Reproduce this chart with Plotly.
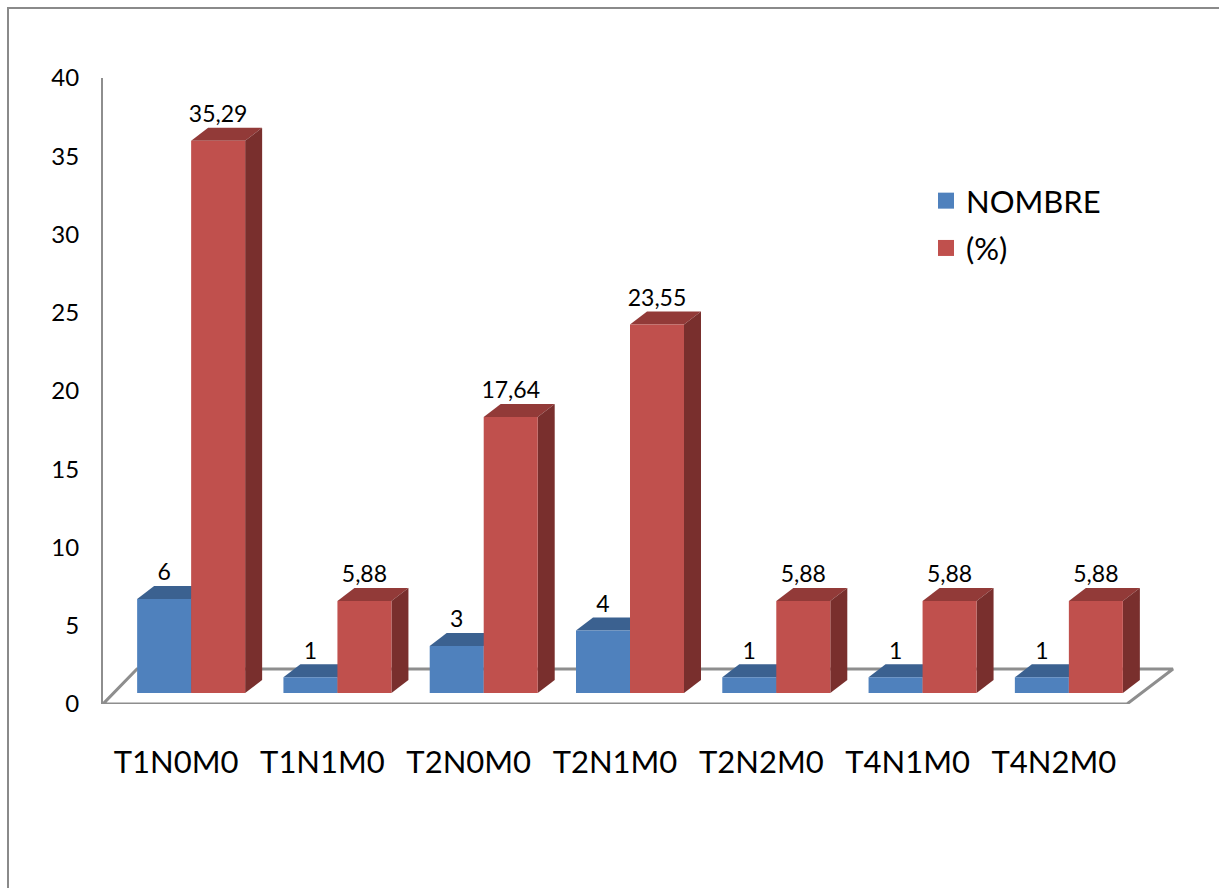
import plotly.graph_objects as go

# ---- data ----
categories = ["T1N0M0", "T1N1M0", "T2N0M0", "T2N1M0", "T2N2M0", "T4N1M0", "T4N2M0"]
nombre = [6, 1, 3, 4, 1, 1, 1]
pourcent = [35.29, 5.88, 17.64, 23.55, 5.88, 5.88, 5.88]
nombre_labels = ["6", "1", "3", "4", "1", "1", "1"]
pourcent_labels = ["35,29", "5,88", "17,64", "23,55", "5,88", "5,88", "5,88"]
y_ticks = [0, 5, 10, 15, 20, 25, 30, 35, 40]

# ---- geometry (pixel scale helpers for the pseudo-3D look) ----
W, H = 1219, 888
X0_PX, Y0_PX, Y40_PX = 103, 704, 78
CAT_PX = 1024 / 7.0            # pixels per category
VAL_PX = (Y0_PX - Y40_PX) / 40  # pixels per unit
ux = lambda px: px / CAT_PX
uy = lambda px: px / VAL_PX

FRONT_DX, FRONT_DY = ux(15), uy(11)   # bar front face position inside the floor
DEPTH_DX, DEPTH_DY = ux(17), uy(13)   # bar depth
BAR_W = ux(54)
FLOOR_DY = uy(35)

BLUE = dict(front="#4F81BD", top="#3B6190", side="#2F4F78")
RED = dict(front="#C0504D", top="#923A38", side="#792F2D")
FONT = "Lato, Carlito, Calibri, sans-serif"

fig = go.Figure()

# floor
n = len(categories)
fl_left, fl_right = -0.5, n - 0.5
floor_x = [fl_left, fl_right, fl_right + ux(46), fl_left + ux(34), fl_left]
floor_y = [0, 0, FLOOR_DY, FLOOR_DY, 0]
fig.add_trace(go.Scatter(x=floor_x, y=floor_y, mode="lines", fill="toself",
                         fillcolor="white", line=dict(color="#8E8E8E", width=3),
                         hoverinfo="skip", showlegend=False))


def add_bar(xl, val, col, label):
    xr = xl + BAR_W
    b = FRONT_DY
    t = val + FRONT_DY
    # top face
    fig.add_trace(go.Scatter(
        x=[xl, xr, xr + DEPTH_DX, xl + DEPTH_DX, xl],
        y=[t, t, t + DEPTH_DY, t + DEPTH_DY, t],
        mode="lines", fill="toself", fillcolor=col["top"], line=dict(width=0),
        hoverinfo="skip", showlegend=False))
    # side face
    fig.add_trace(go.Scatter(
        x=[xr, xr + DEPTH_DX, xr + DEPTH_DX, xr, xr],
        y=[b, b + DEPTH_DY, t + DEPTH_DY, t, b],
        mode="lines", fill="toself", fillcolor=col["side"], line=dict(width=0),
        hoverinfo="skip", showlegend=False))
    # front face
    fig.add_trace(go.Scatter(
        x=[xl, xr, xr, xl, xl], y=[b, b, t, t, b],
        mode="lines", fill="toself", fillcolor=col["front"], line=dict(width=0),
        hoverinfo="skip", showlegend=False))
    # value label
    fig.add_trace(go.Scatter(
        x=[(xl + xr) / 2], y=[t + DEPTH_DY], mode="text", text=[label],
        textposition="top center", textfont=dict(family=FONT, size=23, color="black"),
        hoverinfo="skip", showlegend=False, cliponaxis=False))


for i in range(n):
    c = i + FRONT_DX
    add_bar(c - BAR_W, nombre[i], BLUE, nombre_labels[i])
    add_bar(c, pourcent[i], RED, pourcent_labels[i])

# legend entries
fig.add_trace(go.Scatter(x=[None], y=[None], mode="markers", name="NOMBRE",
                         marker=dict(symbol="square", size=20, color=BLUE["front"]),
                         legendgroup="a"))
fig.add_trace(go.Scatter(x=[None], y=[None], mode="markers", name="(%)",
                         marker=dict(symbol="square", size=20, color=RED["front"]),
                         legendgroup="b"))

fig.update_layout(
    width=W, height=H, margin=dict(l=0, r=0, t=0, b=0, autoexpand=False),
    paper_bgcolor="white", plot_bgcolor="white",
    font=dict(family=FONT, color="black"),
    legend=dict(x=926 / W, y=1 - 174 / H, xanchor="left", yanchor="top",
                font=dict(size=31, family=FONT), bgcolor="rgba(0,0,0,0)",
                tracegroupgap=4, itemsizing="trace"),
    xaxis=dict(domain=[X0_PX / W, 1], range=[-0.5, -0.5 + (W - X0_PX) / CAT_PX],
               showgrid=False, zeroline=False, showline=False, automargin=False,
               tickvals=list(range(n)), ticktext=categories,
               tickfont=dict(size=31, family=FONT), ticks="", ticklabelstandoff=37),
    yaxis=dict(domain=[(H - Y0_PX) / H, (H - Y40_PX) / H], range=[0, 40],
               tickvals=y_ticks, showgrid=False, zeroline=False, automargin=False,
               showline=True, linecolor="#8E8E8E", linewidth=2,
               tickfont=dict(size=24, family=FONT), ticks="", ticklabelstandoff=17),
    shapes=[dict(type="rect", xref="paper", yref="paper",
                 x0=8 / W, x1=1.05, y0=-0.05, y1=1 - 8 / H,
                 line=dict(color="#8A8A8A", width=2), fillcolor="rgba(0,0,0,0)",
                 layer="below")],
)

fig.write_html("out.html")
